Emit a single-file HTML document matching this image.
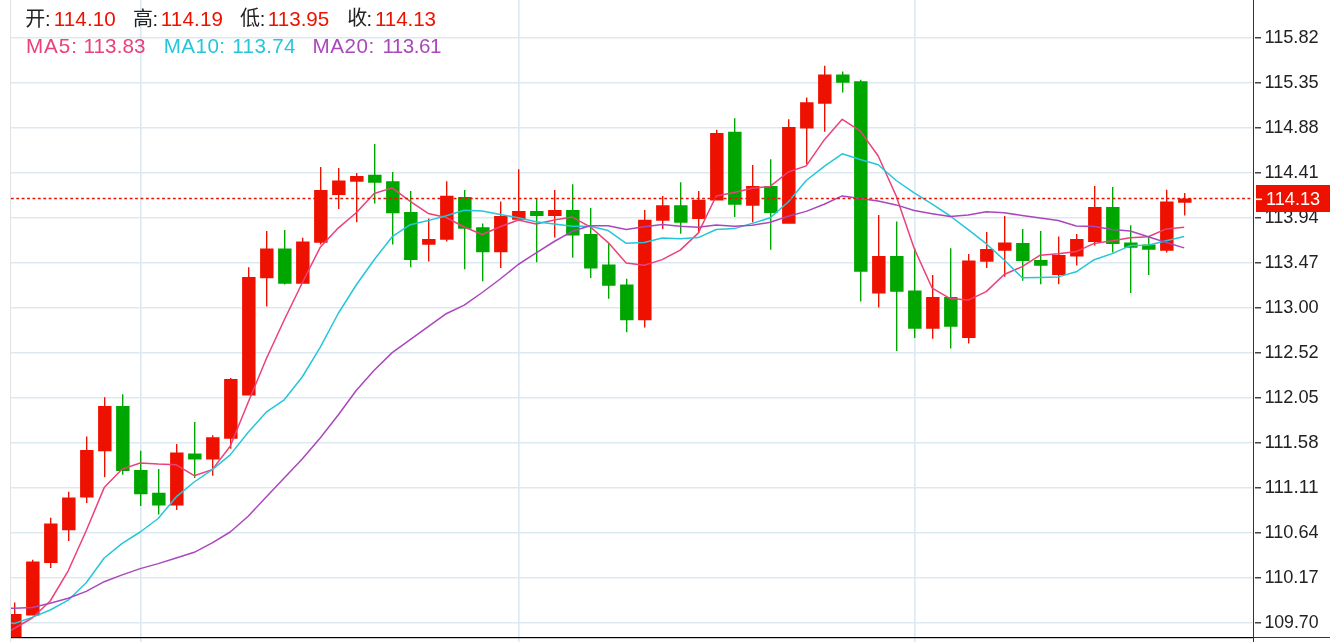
<!DOCTYPE html>
<html><head><meta charset="utf-8"><title>K-line chart</title>
<style>
html,body{margin:0;padding:0;background:#fff;}
body{width:1330px;height:642px;overflow:hidden;font-family:"Liberation Sans",sans-serif;}
svg{display:block;will-change:transform;}
</style></head><body>
<svg width="1330" height="642" viewBox="0 0 1330 642">
<defs><clipPath id="cp"><rect x="11" y="0" width="1242" height="637"/></clipPath></defs>
<rect width="1330" height="642" fill="#fff"/>
<path d="M11 37H1252.5v1.45H11ZM11 82H1252.5v1.45H11ZM11 127H1252.5v1.45H11ZM11 172H1252.5v1.45H11ZM11 217H1252.5v1.45H11ZM11 262H1252.5v1.45H11ZM11 307H1252.5v1.45H11ZM11 352H1252.5v1.45H11ZM11 397H1252.5v1.45H11ZM11 442H1252.5v1.45H11ZM11 487H1252.5v1.45H11ZM11 532H1252.5v1.45H11ZM11 577H1252.5v1.45H11ZM11 622H1252.5v1.45H11ZM140 0h1.65V642h-1.65ZM518 0h1.65V642h-1.65ZM914 0h1.65V642h-1.65Z" fill="#dde9f1"/>
<path d="M10.5 0V642" stroke="#e2e2e2" stroke-width="1" shape-rendering="crispEdges"/>
<g clip-path="url(#cp)">
<path d="M8.1 614.0h13.45V640.0h-13.45ZM14.0 602.5h1.38V640.0h-1.38ZM26.1 561.4h13.45V615.4h-13.45ZM32.0 559.8h1.38V615.4h-1.38ZM44.1 523.4h13.45V562.9h-13.45ZM50.0 517.8h1.38V568.0h-1.38ZM62.1 497.4h13.45V530.2h-13.45ZM68.0 491.7h1.38V541.0h-1.38ZM80.1 449.9h13.45V497.6h-13.45ZM86.0 436.4h1.38V503.0h-1.38ZM98.1 405.9h13.45V451.3h-13.45ZM104.0 397.3h1.38V477.2h-1.38ZM170.1 452.6h13.45V505.6h-13.45ZM176.0 444.0h1.38V509.9h-1.38ZM206.1 437.3h13.45V459.6h-13.45ZM212.0 435.2h1.38V475.7h-1.38ZM224.1 379.0h13.45V438.8h-13.45ZM230.0 378.0h1.38V448.8h-1.38ZM242.1 277.1h13.45V395.5h-13.45ZM248.0 267.2h1.38V395.5h-1.38ZM260.1 248.4h13.45V278.2h-13.45ZM266.0 231.0h1.38V306.4h-1.38ZM296.1 241.6h13.45V283.8h-13.45ZM302.0 237.8h1.38V283.8h-1.38ZM314.1 190.1h13.45V242.8h-13.45ZM320.0 167.1h1.38V244.4h-1.38ZM332.1 180.4h13.45V194.9h-13.45ZM338.0 168.0h1.38V208.9h-1.38ZM350.1 175.9h13.45V181.8h-13.45ZM356.0 173.0h1.38V222.2h-1.38ZM422.1 238.9h13.45V244.8h-13.45ZM428.0 218.6h1.38V261.5h-1.38ZM440.1 195.8h13.45V239.8h-13.45ZM446.0 181.3h1.38V241.4h-1.38ZM494.1 216.0h13.45V252.3h-13.45ZM500.0 201.5h1.38V267.9h-1.38ZM512.1 211.0h13.45V219.8h-13.45ZM518.0 169.2h1.38V219.8h-1.38ZM548.1 210.1h13.45V216.0h-13.45ZM554.0 190.0h1.38V237.6h-1.38ZM638.1 219.8h13.45V320.3h-13.45ZM644.0 209.9h1.38V327.5h-1.38ZM656.1 205.3h13.45V220.7h-13.45ZM662.0 195.9h1.38V229.1h-1.38ZM692.1 199.7h13.45V218.9h-13.45ZM698.0 190.9h1.38V233.1h-1.38ZM710.1 132.9h13.45V200.6h-13.45ZM716.0 129.7h1.38V200.6h-1.38ZM746.1 186.1h13.45V205.8h-13.45ZM752.0 165.1h1.38V222.3h-1.38ZM782.1 127.0h13.45V223.8h-13.45ZM788.0 119.3h1.38V223.8h-1.38ZM800.1 102.2h13.45V128.4h-13.45ZM806.0 97.4h1.38V164.1h-1.38ZM818.1 74.4h13.45V103.8h-13.45ZM824.0 65.8h1.38V131.8h-1.38ZM872.1 256.0h13.45V293.4h-13.45ZM878.0 215.1h1.38V307.4h-1.38ZM926.1 297.0h13.45V328.8h-13.45ZM932.0 275.0h1.38V338.8h-1.38ZM962.1 260.6h13.45V338.1h-13.45ZM968.0 254.0h1.38V343.5h-1.38ZM980.1 248.9h13.45V261.8h-13.45ZM986.0 232.0h1.38V268.1h-1.38ZM998.1 242.4h13.45V250.7h-13.45ZM1004.0 216.0h1.38V276.7h-1.38ZM1052.1 255.0h13.45V275.0h-13.45ZM1058.0 236.6h1.38V284.3h-1.38ZM1070.1 238.9h13.45V256.4h-13.45ZM1076.0 234.1h1.38V265.5h-1.38ZM1088.1 207.0h13.45V242.1h-13.45ZM1094.0 186.0h1.38V245.6h-1.38ZM1160.1 201.4h13.45V250.8h-13.45ZM1166.0 189.8h1.38V252.6h-1.38ZM1178.1 198.4h13.45V202.7h-13.45ZM1184.0 193.0h1.38V215.6h-1.38Z" fill="#ee1100"/>
<path d="M116.1 405.9h13.45V470.9h-13.45ZM122.0 394.3h1.38V474.8h-1.38ZM134.1 470.0h13.45V494.2h-13.45ZM140.0 450.8h1.38V506.0h-1.38ZM152.1 492.8h13.45V505.6h-13.45ZM158.0 469.1h1.38V514.6h-1.38ZM188.1 453.5h13.45V459.4h-13.45ZM194.0 422.1h1.38V477.9h-1.38ZM278.1 248.4h13.45V283.7h-13.45ZM284.0 229.9h1.38V284.5h-1.38ZM368.1 174.8h13.45V182.7h-13.45ZM374.0 144.1h1.38V203.5h-1.38ZM386.1 181.3h13.45V213.2h-13.45ZM392.0 171.9h1.38V244.6h-1.38ZM404.1 212.1h13.45V259.9h-13.45ZM410.0 191.0h1.38V267.2h-1.38ZM458.1 196.9h13.45V228.8h-13.45ZM464.0 189.9h1.38V269.2h-1.38ZM476.1 227.2h13.45V252.3h-13.45ZM482.0 223.4h1.38V281.2h-1.38ZM530.1 211.0h13.45V216.0h-13.45ZM536.0 198.6h1.38V262.3h-1.38ZM566.1 210.1h13.45V235.4h-13.45ZM572.0 184.3h1.38V257.7h-1.38ZM584.1 234.0h13.45V268.5h-13.45ZM590.0 208.0h1.38V278.0h-1.38ZM602.1 264.5h13.45V285.7h-13.45ZM608.0 243.7h1.38V298.8h-1.38ZM620.1 284.6h13.45V320.3h-13.45ZM626.0 278.8h1.38V332.2h-1.38ZM674.1 205.3h13.45V222.7h-13.45ZM680.0 182.3h1.38V233.8h-1.38ZM728.1 131.8h13.45V204.7h-13.45ZM734.0 118.2h1.38V216.9h-1.38ZM764.1 186.1h13.45V213.0h-13.45ZM770.0 159.3h1.38V249.8h-1.38ZM836.1 74.4h13.45V82.8h-13.45ZM842.0 71.5h1.38V92.5h-1.38ZM854.1 81.2h13.45V271.7h-13.45ZM860.0 79.8h1.38V301.5h-1.38ZM890.1 256.0h13.45V291.8h-13.45ZM896.0 221.4h1.38V351.0h-1.38ZM908.1 290.4h13.45V328.8h-13.45ZM914.0 248.3h1.38V337.9h-1.38ZM944.1 297.0h13.45V326.8h-13.45ZM950.0 248.3h1.38V348.5h-1.38ZM1016.1 243.1h13.45V260.9h-13.45ZM1022.0 229.1h1.38V280.8h-1.38ZM1034.1 260.0h13.45V265.8h-13.45ZM1040.0 231.0h1.38V284.3h-1.38ZM1106.1 207.0h13.45V243.9h-13.45ZM1112.0 187.1h1.38V252.6h-1.38ZM1124.1 242.5h13.45V247.7h-13.45ZM1130.0 225.3h1.38V292.9h-1.38ZM1142.1 244.5h13.45V249.7h-13.45ZM1148.0 237.3h1.38V275.0h-1.38Z" fill="#00a600"/>
<polyline points="-3.8,639.5 14.2,628.5 32.2,618 50.2,601 68.2,570.8 86.2,530.8 104.2,487.6 122.2,469.1 140.2,463 158.2,464.1 176.2,464.8 194.2,475.7 212.2,469.6 230.2,446.2 248.2,402.3 266.2,359 284.2,320 302.2,283 320.2,247.3 338.2,228.1 356.2,212.7 374.2,193.5 392.2,187.9 410.2,201.4 428.2,213.4 446.2,217.5 464.2,227 482.2,234.5 500.2,226.8 518.2,220 536.2,223.9 554.2,220 572.2,217.1 590.2,226.8 608.2,242.6 626.2,262.9 644.2,265.2 662.2,259.6 680.2,250.1 698.2,233.1 716.2,196 734.2,192.5 752.2,188.3 770.2,186.4 788.2,172 806.2,165.9 824.2,139.9 842.2,119.3 860.2,130.9 878.2,156 896.2,196 914.2,248.5 932.2,288.2 950.2,298.6 968.2,300.1 986.2,291.6 1004.2,274.5 1022.2,266.6 1040.2,255.2 1058.2,253.8 1076.2,251.6 1094.2,243.4 1112.2,240.7 1130.2,237.7 1148.2,236.8 1166.2,228.9 1184.2,227.3" fill="none" stroke="#ec407a" stroke-width="1.5" stroke-linejoin="round"/>
<polyline points="-3.8,620.5 14.2,623.5 32.2,617.4 50.2,610 68.2,600.2 86.2,582.8 104.2,558 122.2,543.3 140.2,532 158.2,518.5 176.2,496.9 194.2,482 212.2,469.6 230.2,454.9 248.2,432.3 266.2,412.2 284.2,399.8 302.2,377 320.2,347.4 338.2,313.5 356.2,285 374.2,259.7 392.2,236.7 410.2,224.7 428.2,220.6 446.2,215.7 464.2,210.2 482.2,211.1 500.2,214.4 518.2,217.8 536.2,221.8 554.2,224.1 572.2,226.3 590.2,226.3 608.2,230.6 626.2,243.3 644.2,242.6 662.2,238.1 680.2,238.8 698.2,237.6 716.2,229.5 734.2,228.6 752.2,223.4 770.2,217.8 788.2,202 806.2,180.5 824.2,166.3 842.2,153.8 860.2,159.5 878.2,164.7 896.2,180.5 914.2,192.9 932.2,204.2 950.2,216 968.2,229.7 986.2,243.7 1004.2,260 1022.2,277.8 1040.2,277.4 1058.2,276.9 1076.2,271.8 1094.2,259.7 1112.2,253.6 1130.2,245.6 1148.2,245.2 1166.2,240.7 1184.2,236.6" fill="none" stroke="#26c6da" stroke-width="1.5" stroke-linejoin="round"/>
<polyline points="-3.8,608.6 14.2,608.3 32.2,607.5 50.2,603.2 68.2,598.2 86.2,591.4 104.2,581.7 122.2,574.9 140.2,568.6 158.2,563.6 176.2,558 194.2,552.3 212.2,542.9 230.2,532 248.2,516.2 266.2,497 284.2,478 302.2,459 320.2,438 338.2,415 356.2,390.5 374.2,370.3 392.2,352.6 410.2,339.7 428.2,326.6 446.2,313.7 464.2,305.1 482.2,292.5 500.2,279 518.2,264.5 536.2,252.8 554.2,241.5 572.2,231.3 590.2,225.7 608.2,225.7 626.2,229.5 644.2,226.8 662.2,224.5 680.2,226.3 698.2,227.3 716.2,225 734.2,226.2 752.2,225.3 770.2,222.3 788.2,216.2 806.2,211.4 824.2,204.2 842.2,195.9 860.2,198.6 878.2,201.1 896.2,204.9 914.2,210.5 932.2,213.7 950.2,216.6 968.2,215.1 986.2,211.7 1004.2,212.8 1022.2,215.5 1040.2,218 1058.2,220.5 1076.2,226 1094.2,226.4 1112.2,229.4 1130.2,231 1148.2,236.8 1166.2,242.5 1184.2,247.9" fill="none" stroke="#ab47bc" stroke-width="1.5" stroke-linejoin="round"/>
</g>
<path d="M10.9 198.55H1250.4" stroke="#ee1100" stroke-width="1.4" stroke-dasharray="2.8 2.6" fill="none"/>
<path d="M1253.5 0V642M1253 637.5H1330" stroke="#333333" stroke-width="1" fill="none" shape-rendering="crispEdges"/>
<rect x="11" y="637" width="1242" height="1.2" fill="#000"/>
<path d="M1255 37.0H1261v1.4H1255ZM1255 82.0H1261v1.4H1255ZM1255 127.0H1261v1.4H1255ZM1255 172.0H1261v1.4H1255ZM1255 217.0H1261v1.4H1255ZM1255 262.0H1261v1.4H1255ZM1255 307.0H1261v1.4H1255ZM1255 352.0H1261v1.4H1255ZM1255 397.0H1261v1.4H1255ZM1255 442.0H1261v1.4H1255ZM1255 487.0H1261v1.4H1255ZM1255 532.0H1261v1.4H1255ZM1255 577.0H1261v1.4H1255ZM1255 622.0H1261v1.4H1255Z" fill="#444"/>
<g font-family="Liberation Sans, sans-serif" font-size="19" fill="#222">
 <text x="1264.4" y="43.4" textLength="54.2" lengthAdjust="spacingAndGlyphs">115.82</text>
 <text x="1264.4" y="88.4" textLength="54.2" lengthAdjust="spacingAndGlyphs">115.35</text>
 <text x="1264.4" y="133.4" textLength="54.2" lengthAdjust="spacingAndGlyphs">114.88</text>
 <text x="1264.4" y="178.4" textLength="54.2" lengthAdjust="spacingAndGlyphs">114.41</text>
 <text x="1264.4" y="223.4" textLength="54.2" lengthAdjust="spacingAndGlyphs">113.94</text>
 <text x="1264.4" y="268.4" textLength="54.2" lengthAdjust="spacingAndGlyphs">113.47</text>
 <text x="1264.4" y="313.4" textLength="54.2" lengthAdjust="spacingAndGlyphs">113.00</text>
 <text x="1264.4" y="358.4" textLength="54.2" lengthAdjust="spacingAndGlyphs">112.52</text>
 <text x="1264.4" y="403.4" textLength="54.2" lengthAdjust="spacingAndGlyphs">112.05</text>
 <text x="1264.4" y="448.4" textLength="54.2" lengthAdjust="spacingAndGlyphs">111.58</text>
 <text x="1264.4" y="493.4" textLength="54.2" lengthAdjust="spacingAndGlyphs">111.11</text>
 <text x="1264.4" y="538.4" textLength="54.2" lengthAdjust="spacingAndGlyphs">110.64</text>
 <text x="1264.4" y="583.4" textLength="54.2" lengthAdjust="spacingAndGlyphs">110.17</text>
 <text x="1264.4" y="628.4" textLength="54.2" lengthAdjust="spacingAndGlyphs">109.70</text>
</g>
<rect x="1256" y="185" width="74" height="27" fill="#ee1100"/>
<rect x="1256" y="198.5" width="6" height="1.6" fill="#fff"/>
<text x="1266" y="205" font-family="Liberation Sans, sans-serif" font-size="19" fill="#fff" textLength="54.2" lengthAdjust="spacingAndGlyphs">114.13</text>
<g font-family="Liberation Sans, Noto Sans CJK SC, sans-serif">
<text x="25.3" y="25.6" font-size="20" fill="#222">开</text>
<text x="45.0" y="25.8" fill="#222" font-size="20">:</text>
<text x="53.7" y="25.8" fill="#ee1100" font-size="20.6" letter-spacing="0.12">114.10</text>
<text x="133.0" y="25.6" font-size="20" fill="#222">高</text>
<text x="152.6" y="25.8" fill="#222" font-size="20">:</text>
<text x="160.8" y="25.8" fill="#ee1100" font-size="20.6" letter-spacing="0.15">114.19</text>
<text x="240.0" y="25.2" font-size="20" fill="#222">低</text>
<text x="259.7" y="25.8" fill="#222" font-size="20">:</text>
<text x="267.8" y="25.8" fill="#ee1100" font-size="20.6">113.95</text>
<text x="347.2" y="25.2" font-size="20" fill="#222">收</text>
<text x="366.6" y="25.8" fill="#222" font-size="20">:</text>
<text x="374.9" y="25.8" fill="#ee1100" font-size="20.6" letter-spacing="-0.06">114.13</text>
<text x="25.9" y="52.9" fill="#ec407a" font-size="20.6" letter-spacing="1.0">MA5:</text>
<text x="83.5" y="52.9" fill="#ec407a" font-size="20.6" letter-spacing="0.1">113.83</text>
<text x="163.7" y="52.9" fill="#26c6da" font-size="20.6" letter-spacing="0.47">MA10:</text>
<text x="232.3" y="52.9" fill="#26c6da" font-size="20.6" letter-spacing="0.36">113.74</text>
<text x="312.5" y="52.9" fill="#ab47bc" font-size="20.6" letter-spacing="0.52">MA20:</text>
<text x="382.4" y="52.9" fill="#ab47bc" font-size="20.6" letter-spacing="-0.5">113.61</text>
</g>
</svg>
</body></html>
